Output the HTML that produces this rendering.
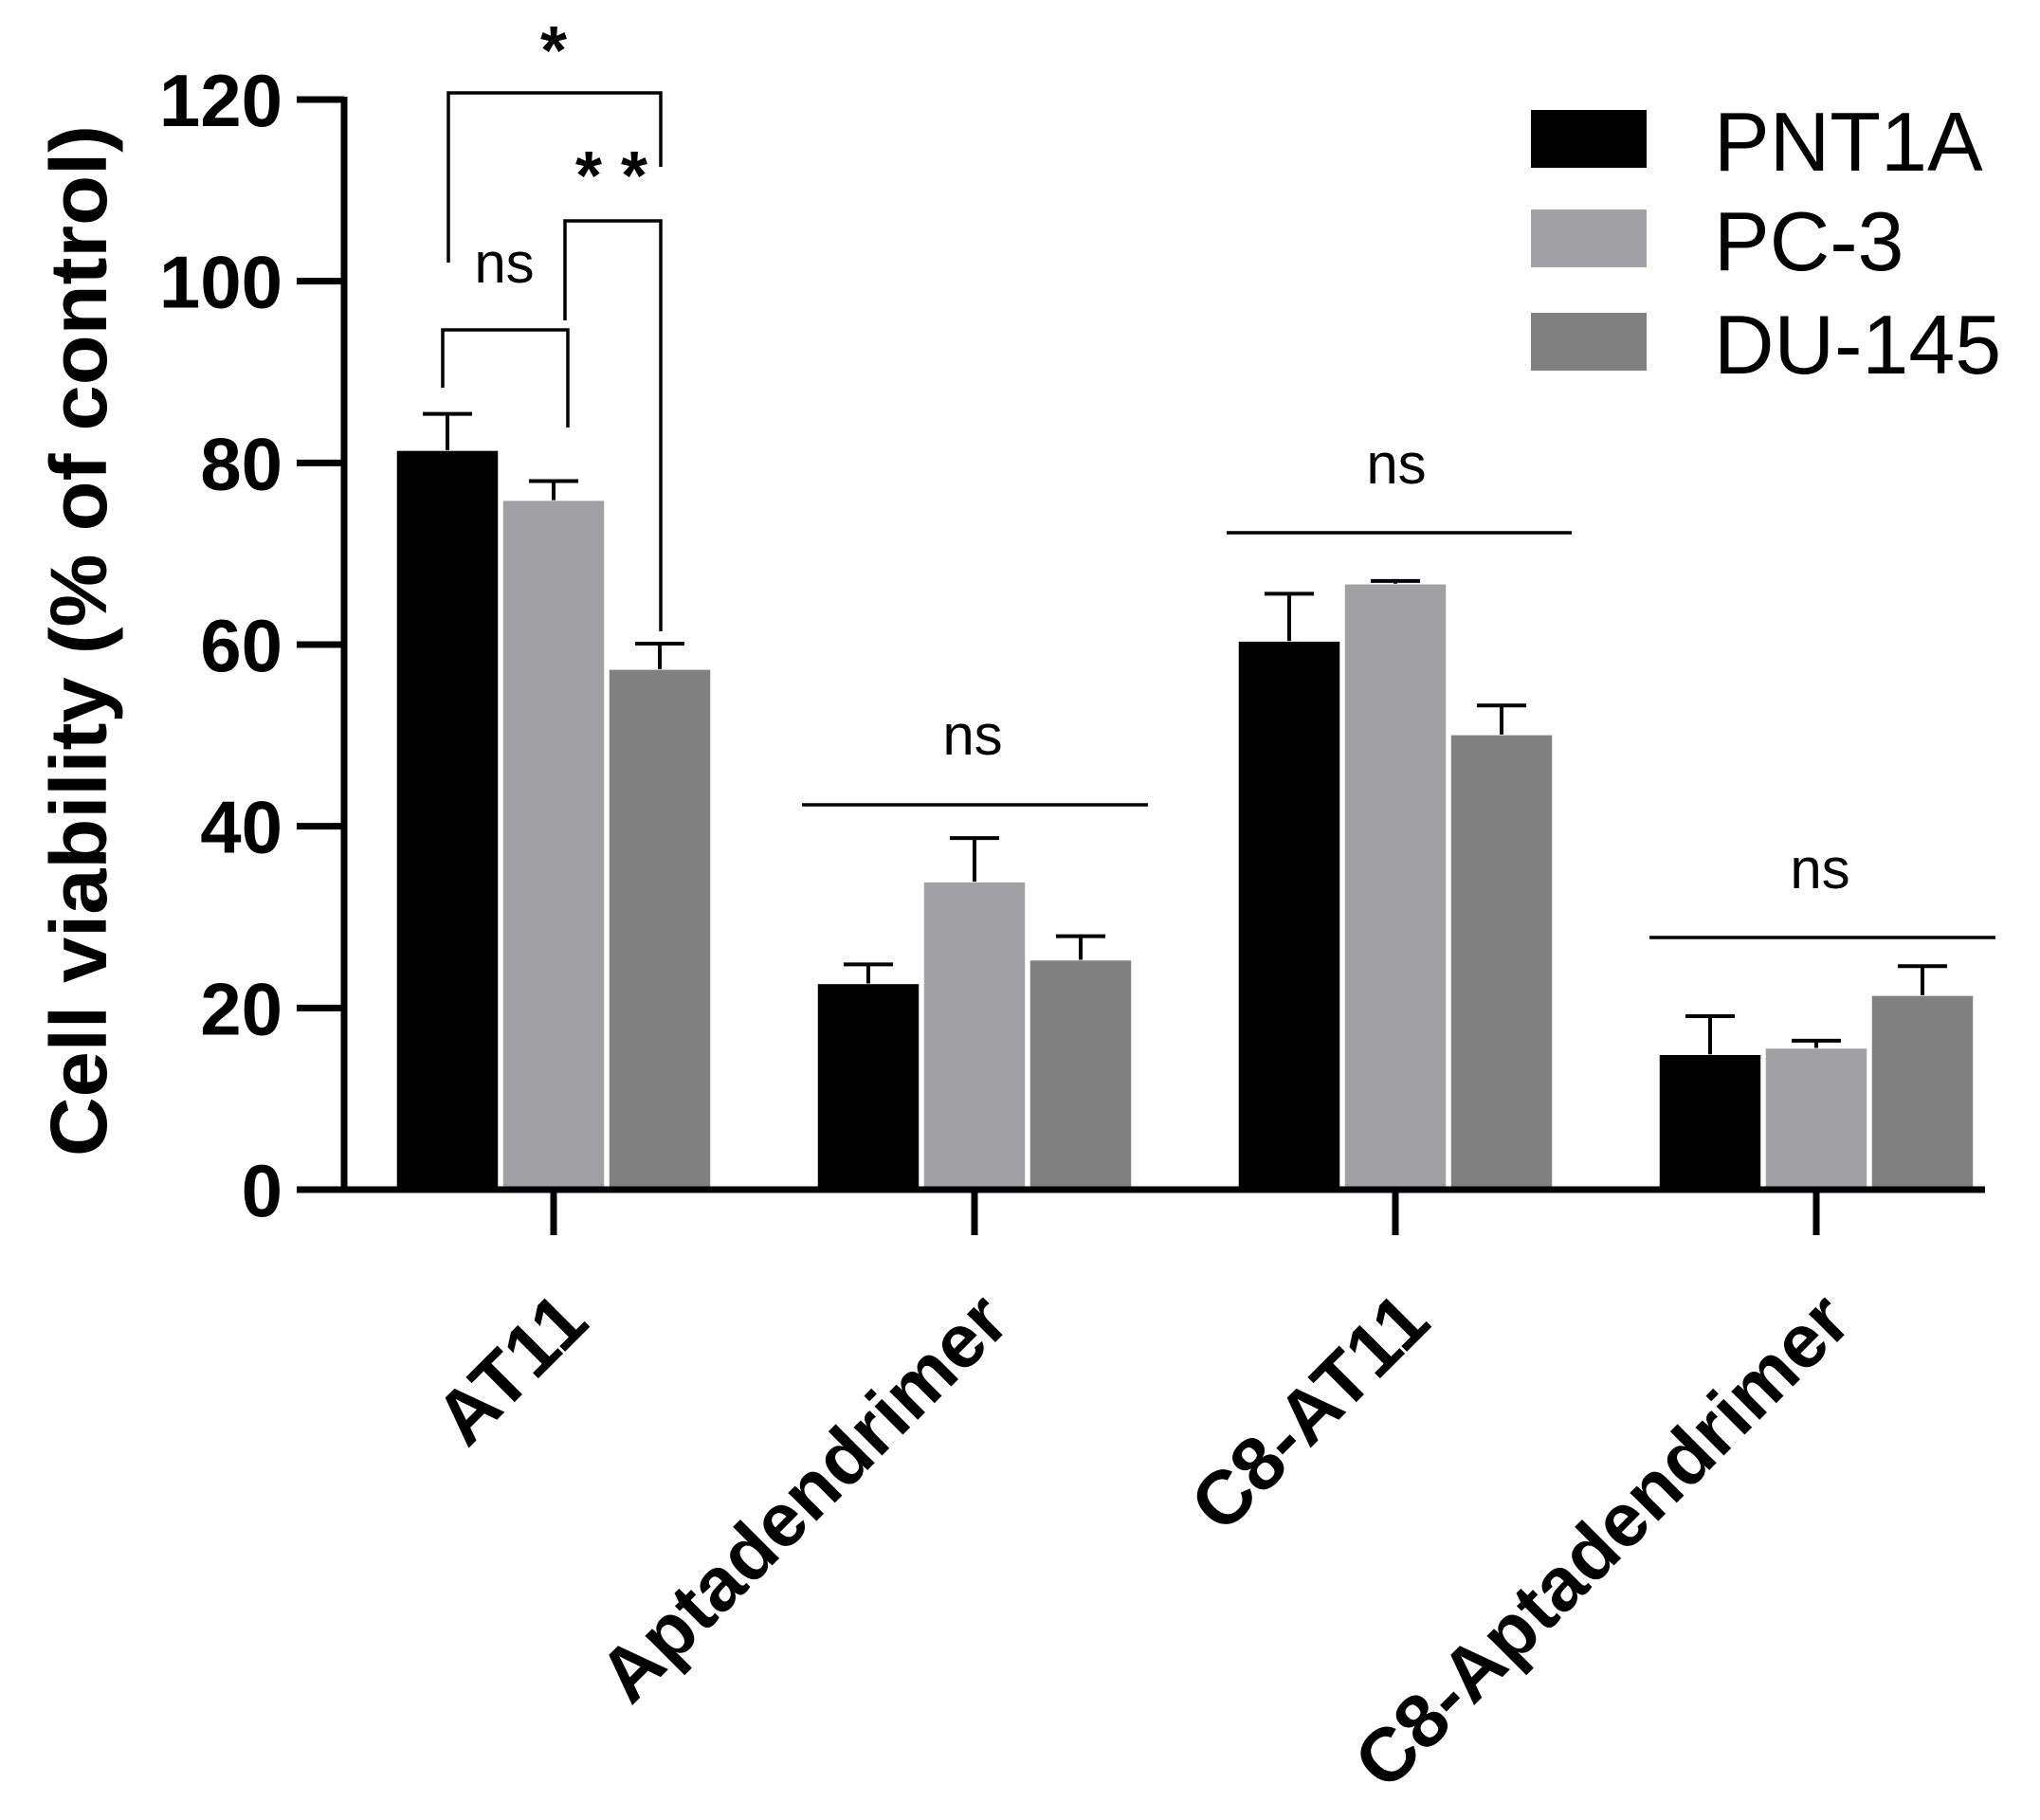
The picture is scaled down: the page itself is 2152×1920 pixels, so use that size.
<!DOCTYPE html>
<html>
<head>
<meta charset="utf-8">
<style>
html,body{margin:0;padding:0;background:#fff;}
svg{display:block;}
text{font-family:"Liberation Sans",Arial,sans-serif;}
</style>
</head>
<body>
<svg id="chart" width="2152" height="1920" viewBox="0 0 2152 1920" xmlns="http://www.w3.org/2000/svg">
<g id="bars"></g>
<g id="axes"></g>
<g id="annot"></g>
<g id="legend"></g>
</svg>
<script>
const categories = ["AT11", "Aptadendrimer", "C8-AT11", "C8-Aptadendrimer"];
const seriesNames = ["PNT1A", "PC-3", "DU-145"];
const pnt1aValues = [81.4, 22.7, 60.4, 14.9];
const pc3Values = [75.9, 33.9, 66.7, 15.6];
const du145Values = [57.3, 25.3, 50.1, 21.4];
const pnt1aErr = [4.0, 2.1, 5.2, 4.2];
const pc3Err = [2.1, 4.8, 0.3, 0.8];
const du145Err = [2.8, 2.6, 3.2, 3.2];
const yTicks = [0, 20, 40, 60, 80, 100, 120];

const seriesValues = [pnt1aValues, pc3Values, du145Values];
const seriesErr = [pnt1aErr, pc3Err, du145Err];
const colors = ["#000000", "#a1a1a5", "#808080"];

const NS = "http://www.w3.org/2000/svg";
const X0 = 363, Y0 = 1255, YTOP = 105, YMAX = 120;
const firstCenter = 584, groupStep = 444;
const barW = 108, barGap = 4;
function yScale(v){ return Y0 - (v / YMAX) * (Y0 - YTOP); }
function xCenter(i){ return firstCenter + i * groupStep; }
function barX(i, s){ return xCenter(i) - (3*barW + 2*barGap)/2 + s*(barW + barGap); }

function mk(tag, attrs, parent){
  const e = document.createElementNS(NS, tag);
  for (const k in attrs) e.setAttribute(k, attrs[k]);
  parent.appendChild(e);
  return e;
}
const barsG = document.getElementById('bars');
const axesG = document.getElementById('axes');
const annotG = document.getElementById('annot');
const legendG = document.getElementById('legend');

for (let s = 0; s < 3; s++) {
  for (let i = 0; i < categories.length; i++) {
    const v = seriesValues[s][i], e = seriesErr[s][i];
    const x = barX(i, s), y = yScale(v);
    const r = mk('rect', {x: x, y: y, width: barW, height: Y0 - y, fill: colors[s], stroke: '#ffffff', 'stroke-width': 1.5}, barsG);
    
    
    const cx = x + barW/2, ye = yScale(v + e);
    const l = mk('path', {d: `M${cx},${y} V${ye} M${cx-26},${ye} H${cx+26}`, stroke: '#000', 'stroke-width': 4, fill: 'none'}, barsG);
    
    
  }
}

const yAxis = mk('line', {x1: X0, y1: YTOP - 3, x2: X0, y2: Y0 + 3.5, stroke: '#000', 'stroke-width': 7}, axesG);


const xAxis = mk('line', {x1: X0 - 3.5, y1: Y0, x2: 2094, y2: Y0, stroke: '#000', 'stroke-width': 7}, axesG);


yTicks.forEach(t => {
  const y = yScale(t);
  const tk = mk('line', {x1: 313, y1: y, x2: X0, y2: y, stroke: '#000', 'stroke-width': 7}, axesG);
  
  
  const tl = mk('text', {x: 298, y: y + 28, 'text-anchor': 'end', 'font-size': 78, 'font-weight': 'bold'}, axesG);
  tl.textContent = t;
  
  
});
categories.forEach((c, i) => {
  const x = xCenter(i);
  const tk = mk('line', {x1: x, y1: Y0, x2: x, y2: 1303, stroke: '#000', 'stroke-width': 7}, axesG);
  
  
  const tx = x + 40, ty = 1398;
  const tl = mk('text', {x: tx, y: ty, 'text-anchor': 'end', 'font-size': 80, 'font-weight': 'bold', transform: `rotate(-45 ${tx} ${ty})`}, axesG);
  tl.textContent = c;
  
  
});
const yt = mk('text', {x: 0, y: 0, 'text-anchor': 'middle', 'font-size': 84, 'font-weight': 'bold', textLength: 1088, lengthAdjust: 'spacingAndGlyphs', transform: 'translate(112,676) rotate(-90)'}, axesG);
yt.textContent = 'Cell viability (% of control)';



function path(d, name){
  const p = mk('path', {d: d, stroke: '#000', 'stroke-width': 3.5, fill: 'none'}, annotG);
  
  
}
function label(x, y, t, size, name, weight){
  const e = mk('text', {x: x, y: y, 'text-anchor': 'middle', 'font-size': size, 'font-weight': weight || 'normal'}, annotG);
  e.textContent = t;
  
  
}
path('M473,277 V98 H697 V176', 'bracket-star');
label(584, 78, '*', 72, 'significance-star', 'bold');
path('M596,338 V233 H697 V666', 'bracket-double-star');
label(645, 210, '* *', 72, 'significance-double-star', 'bold');
path('M467,409 V348 H599 V451', 'bracket-ns-at11');
label(532, 298, 'ns', 60, 'ns-label-at11');
path('M846,849 H1211', 'line-ns-aptadendrimer');
label(1026, 796, 'ns', 60, 'ns-label-aptadendrimer');
path('M1294,562 H1658', 'line-ns-c8-at11');
label(1473, 510, 'ns', 60, 'ns-label-c8-at11');
path('M1740,989 H2105', 'line-ns-c8-aptadendrimer');
label(1920, 937, 'ns', 60, 'ns-label-c8-aptadendrimer');

const legY = [116, 221, 330];
seriesNames.forEach((n, s) => {
  const r = mk('rect', {x: 1615, y: legY[s], width: 122, height: 61, fill: colors[s]}, legendG);
  
  
  const t = mk('text', {x: 1808, y: legY[s] + 64, 'font-size': 88}, legendG);
  t.textContent = n;
  
  
});
</script>
</body>
</html>
